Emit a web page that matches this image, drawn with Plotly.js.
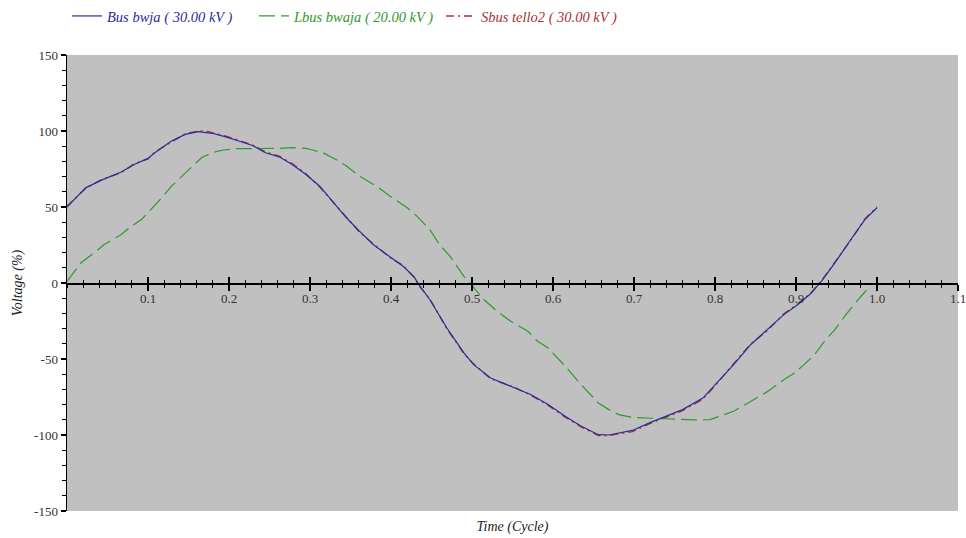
<!DOCTYPE html>
<html>
<head>
<meta charset="utf-8">
<script src="https://cdn.plot.ly/plotly-3.0.1.min.js"></script>
<style>html,body{margin:0;padding:0;background:#fff;}#chart{width:966px;height:538px;}</style>
</head>
<body>
<div id="chart"></div>
<script>
// ---- data ----
const seriesNames = ["Bus bwja ( 30.00 kV )", "Lbus bwaja ( 20.00 kV )", "Sbus tello2 ( 30.00 kV )"];

const busTime = [0, 0.023, 0.042, 0.067, 0.083, 0.100, 0.108, 0.129, 0.146, 0.162, 0.179, 0.195, 0.212, 0.229, 0.245, 0.262, 0.278, 0.295, 0.312, 0.328, 0.345, 0.361, 0.378, 0.399, 0.415, 0.428, 0.436, 0.448, 0.469, 0.490, 0.502, 0.523, 0.552, 0.573, 0.594, 0.615, 0.635, 0.656, 0.669, 0.698, 0.719, 0.740, 0.760, 0.785, 0.802, 0.823, 0.844, 0.865, 0.885, 0.902, 0.919, 0.933, 0.948, 0.969, 0.985, 1.0];
const busVoltage = [50, 62.6, 67.5, 73, 78, 82, 85.5, 93.4, 97.8, 99.6, 98.5, 96.3, 93.4, 90.5, 85.7, 83, 78, 71.4, 63.7, 53.8, 42.9, 34.1, 25.3, 17.1, 11, 4.4, -2.2, -11, -29.6, -46, -53.7, -62.5, -69, -73.5, -80, -87.7, -94.3, -99.8, -100, -97, -92, -87.7, -83.3, -75.7, -65.8, -53.7, -40.6, -30.7, -20.8, -14.3, -6.6, 2.2, 13.2, 29.6, 41.7, 49.5];

const lbusTime = [0, 0.017, 0.036, 0.046, 0.067, 0.077, 0.092, 0.106, 0.117, 0.129, 0.144, 0.154, 0.166, 0.179, 0.193, 0.212, 0.237, 0.262, 0.278, 0.295, 0.303, 0.316, 0.332, 0.345, 0.361, 0.382, 0.399, 0.420, 0.432, 0.448, 0.460, 0.473, 0.490, 0.502, 0.515, 0.531, 0.548, 0.569, 0.581, 0.594, 0.606, 0.619, 0.631, 0.644, 0.656, 0.669, 0.681, 0.698, 0.723, 0.748, 0.773, 0.794, 0.806, 0.823, 0.844, 0.865, 0.885, 0.898, 0.910, 0.923, 0.935, 0.948, 0.960, 0.973, 0.990];
const lbusVoltage = [1, 13.2, 20.9, 25.3, 31.9, 36.3, 41.8, 49.5, 56, 63.7, 71.4, 76.9, 82.4, 85.7, 87.5, 88.4, 88.4, 88.6, 89, 88.6, 87.5, 85.7, 81.3, 76.9, 70.3, 63.7, 57.1, 49.5, 44, 35.1, 25.2, 17.5, 4.4, -3.3, -11, -18.6, -25.2, -31.8, -38.4, -42.8, -49.3, -57, -64.7, -72.4, -78.9, -83.3, -86.6, -88.4, -88.8, -89.3, -90.1, -89.9, -87.7, -84.4, -77.9, -71.3, -63.6, -59.2, -53.7, -47.1, -38.4, -30.7, -21.9, -13.2, -3];

const sbusTime = [0, 0.023, 0.042, 0.067, 0.083, 0.100, 0.108, 0.129, 0.146, 0.162, 0.172, 0.179, 0.195, 0.212, 0.229, 0.245, 0.262, 0.278, 0.295, 0.312, 0.328, 0.345, 0.361, 0.378, 0.399, 0.415, 0.428, 0.436, 0.448, 0.469, 0.490, 0.502, 0.523, 0.552, 0.573, 0.594, 0.615, 0.635, 0.656, 0.669, 0.698, 0.719, 0.740, 0.760, 0.785, 0.802, 0.823, 0.844, 0.865, 0.885, 0.902, 0.919, 0.933, 0.948, 0.969, 0.985, 1.0];
const sbusVoltage = [50.5, 62.2, 67.9, 72.6, 78.4, 81.6, 86, 93, 98.2, 100, 100, 98.9, 96.8, 93.9, 90.9, 86.2, 83.5, 78.6, 71.9, 63.2, 53.3, 43.4, 33.6, 25.8, 16.6, 11.5, 3.9, -2.7, -10.5, -30.1, -46.5, -53.2, -63, -68.5, -74, -80.5, -88.2, -94.8, -100.3, -100.3, -97.8, -92.6, -88.3, -83.9, -76.4, -66.4, -53.1, -40.1, -31.2, -20.2, -13.8, -6.1, 2.7, 13.8, 29.1, 42.2, 50];

const xTickVals = [0.1, 0.2, 0.3, 0.4, 0.5, 0.6, 0.7, 0.8, 0.9, 1.0, 1.1];
const xTickLabels = ["0.1", "0.2", "0.3", "0.4", "0.5", "0.6", "0.7", "0.8", "0.9", "1.0", "1.1"];
const yTickVals = [150, 100, 50, 0, -50, -100, -150];
const yTickLabels = ["150", "100", "50", "0", "-50", "-100", "-150"];

// ---- styling ----
const serif = "Liberation Serif, Times New Roman, serif";
const blue = "#2b2b9e", green = "#2f9a2f", red = "#a83232";
const tickFont = {family: serif, size: 13, color: "#333"};
const titleFont = {family: serif, size: 14, color: "#222", style: "italic"};

const traces = [
  {x: busTime, y: busVoltage, xaxis: "x3", type: "scatter", mode: "lines",
   name: '<span style="color:' + blue + '">' + seriesNames[0] + '</span>',
   line: {color: blue, width: 1.2}},
  {x: lbusTime, y: lbusVoltage, xaxis: "x2", type: "scatter", mode: "lines",
   name: '<span style="color:' + green + '">' + seriesNames[1] + '</span>',
   line: {color: green, width: 1.2, dash: "16px,6px"}},
  {x: sbusTime, y: sbusVoltage, xaxis: "x", type: "scatter", mode: "lines",
   name: '<span style="color:' + red + '">' + seriesNames[2] + '</span>',
   line: {color: red, width: 1.4, dash: "8px,4px,2px,4px"}}
];

const xRange = [0, 1.1];
const layout = {
  width: 966, height: 538,
  margin: {l: 67, r: 8, t: 55, b: 27, autoexpand: false},
  paper_bgcolor: "#ffffff",
  plot_bgcolor: "#c0c0c0",
  showlegend: true,
  legend: {orientation: "h", x: 0.0, xanchor: "left", y: 1.0855, yanchor: "middle",
           font: {family: serif, size: 14.5, style: "italic"}, entrywidth: 142,
           bgcolor: "rgba(0,0,0,0)", traceorder: "normal"},
  xaxis: {range: xRange, showline: false, ticks: "", showticklabels: false,
          showgrid: false, zeroline: false, automargin: false,
          title: {text: "Time (Cycle)", font: titleFont, standoff: 10}},
  xaxis2: {overlaying: "x", anchor: "free", position: 0.5, range: xRange,
           showline: true, linecolor: "#000", linewidth: 1.5,
           ticks: "outside", ticklen: 6, tickwidth: 1.5, tickcolor: "#000",
           tickmode: "array", tickvals: xTickVals, ticktext: xTickLabels, tickfont: tickFont,
           ticklabelstandoff: -3, ticklabeloverflow: "allow",
           minor: {tickmode: "linear", tick0: 0, dtick: 0.02, ticks: "outside", ticklen: 3, tickwidth: 1.2, tickcolor: "#000"},
           showgrid: false, zeroline: false},
  xaxis3: {overlaying: "x", anchor: "free", position: 0.5, range: xRange,
           showline: false, ticks: "inside", ticklen: 6, tickwidth: 1.5, tickcolor: "#000",
           tickmode: "array", tickvals: xTickVals, showticklabels: false,
           minor: {tickmode: "linear", tick0: 0, dtick: 0.02, ticks: "inside", ticklen: 3, tickwidth: 1.2, tickcolor: "#000"},
           showgrid: false, zeroline: false},
  yaxis: {range: [-150, 150], showline: true, linecolor: "#000", linewidth: 1.5,
          ticks: "outside", ticklen: 5, tickwidth: 1.2, tickcolor: "#000",
          tickmode: "array", tickvals: yTickVals, ticktext: yTickLabels, tickfont: tickFont,
          minor: {tickmode: "linear", tick0: 0, dtick: 10, ticks: "outside", ticklen: 4, tickwidth: 1, tickcolor: "#000"},
          showgrid: false, zeroline: false, automargin: false,
          title: {text: "Voltage (%)", font: titleFont, standoff: 8}}
};

Plotly.newPlot("chart", traces, layout, {displayModeBar: false, staticPlot: true});
</script>
</body>
</html>
